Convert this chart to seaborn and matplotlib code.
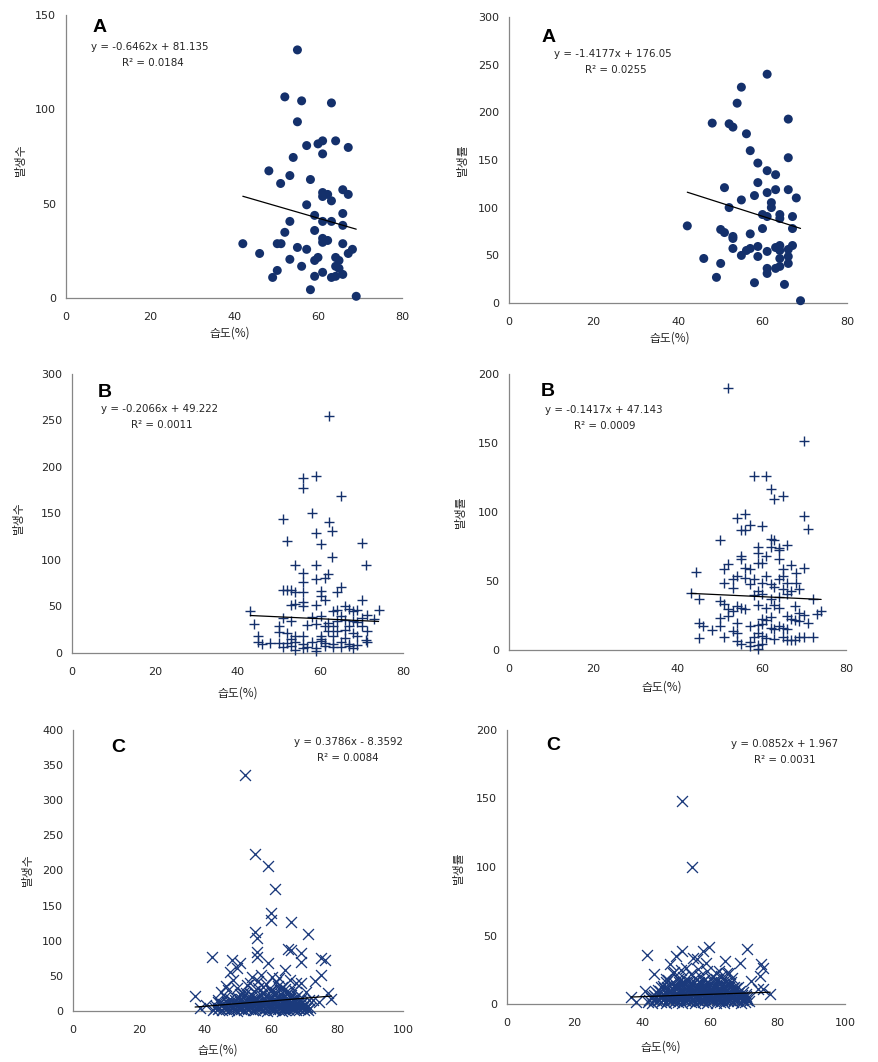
import matplotlib
matplotlib.use("Agg")
import matplotlib.pyplot as plt
import seaborn as sns
import numpy as np
import pandas as pd

sns.set_style("white")
plt.rcParams['font.family'] = ['DejaVu Sans', 'Noto Sans CJK KR']

# ---------------- DATA ----------------
# Panel A (left): humidity vs count
xa1 = [55.1, 52.1, 56.1, 63.2, 55.1, 57.3, 60.0, 61.1, 64.2, 67.2, 61.1, 54.1, 48.3, 53.3, 51.1,
       58.2, 61.1, 61.1, 62.3, 63.2, 65.9, 67.2, 57.3, 59.2, 53.3, 61.1, 63.2, 65.9, 65.9, 52.1,
       59.2, 61.1, 61.1, 62.3, 42.1, 50.3, 51.2, 55.1, 57.3, 65.9, 67.2, 68.2, 46.1, 53.3, 59.2,
       60.0, 64.2, 65.0, 64.2, 65.0, 56.1, 50.3, 49.2, 59.2, 61.1, 63.2, 64.2, 65.9, 58.2, 69.1]
ya1 = [131.5, 106.6, 104.5, 103.4, 93.4, 80.8, 81.7, 83.3, 83.3, 79.8, 76.4, 74.5, 67.4, 64.9, 60.7,
       62.8, 55.9, 53.8, 54.9, 51.5, 57.4, 54.9, 49.4, 43.8, 40.6, 40.6, 40.6, 44.8, 38.5, 34.8,
       35.8, 31.6, 29.5, 30.5, 28.8, 28.8, 28.8, 26.8, 25.8, 28.8, 23.6, 25.8, 23.6, 20.5, 19.9,
       21.5, 21.5, 19.9, 16.8, 15.7, 16.8, 14.6, 10.9, 11.5, 13.6, 10.9, 11.5, 12.5, 4.4, 0.9]

# Panel A (right): humidity vs rate
xa2 = [61.1, 55.0, 54.0, 48.1, 52.1, 53.0, 66.1, 56.2, 57.1, 66.1, 58.9, 61.1, 63.1, 58.9, 51.0,
       61.1, 63.1, 66.1, 58.1, 68.0, 55.0, 62.1, 62.1, 52.1, 60.0, 61.1, 64.1, 64.1, 67.1, 42.2,
       60.0, 67.1, 50.1, 51.0, 53.0, 53.0, 57.1, 53.0, 56.2, 57.1, 58.9, 63.1, 64.1, 64.1, 61.1,
       66.1, 67.1, 55.0, 58.9, 66.1, 64.1, 46.1, 50.1, 64.1, 66.1, 61.1, 63.1, 61.1, 49.1, 58.1,
       65.2, 69.0]
ya2 = [240.0, 226.4, 209.6, 188.7, 188.0, 184.5, 192.9, 177.5, 159.8, 152.4, 146.8, 138.8, 134.6, 126.3, 121.0,
       115.8, 118.9, 118.9, 112.7, 110.2, 108.1, 105.3, 100.1, 100.1, 92.8, 90.7, 92.8, 88.6, 90.7, 80.9,
       78.1, 78.1, 77.1, 73.9, 69.8, 67.7, 72.5, 57.2, 55.1, 57.2, 59.3, 58.2, 60.3, 55.1, 54.1,
       56.2, 60.3, 49.9, 48.8, 48.8, 46.7, 46.7, 41.5, 38.4, 41.5, 36.3, 36.3, 31.0, 26.9, 21.3,
       19.5, 2.4]

# Panel B (left)
xb1 = [62.1, 58.9, 55.9, 55.9, 64.9, 57.9, 51.0, 62.1, 62.9, 58.9, 52.0, 70.1, 60.1, 62.9, 54.0,
       58.9, 71.1, 61.9, 61.1, 58.9, 55.9, 55.9, 64.9, 51.0, 52.0, 53.0, 54.0, 55.9, 60.1, 60.1,
       64.0, 61.1, 70.1, 55.9, 54.0, 53.0, 58.9, 55.9, 66.0, 68.9, 43.1, 74.1, 63.1, 64.0, 66.9,
       67.9, 71.4, 70.1, 73.1, 51.0, 57.9, 60.1, 64.9, 43.9, 53.0, 50.0, 56.9, 58.9, 61.1, 63.1,
       66.9, 68.9, 70.1, 50.0, 52.0, 54.0, 55.9, 61.9, 64.0, 66.0, 67.9, 71.4, 68.9, 45.0, 60.1,
       63.1, 66.0, 71.1, 53.0, 45.0, 45.9, 47.9, 50.0, 52.0, 54.0, 55.9, 57.9, 60.1, 61.1, 63.1,
       64.9, 66.9, 68.9, 71.4, 51.0, 53.0, 55.9, 56.9, 58.9, 61.1, 63.1, 64.9, 66.9, 67.9, 58.9,
       54.0, 60.1, 64.0, 66.0, 67.9, 61.9]
yb1 = [255.2, 190.8, 187.9, 177.6, 168.6, 150.4, 143.9, 140.7, 131.0, 128.9, 120.6, 118.1, 117.1, 103.1, 94.2,
       94.2, 94.9, 84.8, 80.2, 79.1, 85.9, 76.3, 70.9, 68.0, 68.0, 68.0, 65.2, 65.2, 66.6, 60.9,
       65.2, 57.3, 57.3, 54.8, 53.0, 51.2, 51.9, 50.8, 50.8, 46.5, 44.8, 46.5, 44.8, 45.8, 47.3,
       44.8, 41.2, 37.6, 36.5, 37.6, 38.3, 39.4, 39.4, 31.5, 34.0, 29.4, 30.1, 31.5, 29.4, 29.4,
       29.4, 32.9, 28.6, 22.2, 21.5, 18.6, 17.9, 23.3, 23.3, 25.1, 21.5, 23.3, 17.9, 18.6, 17.9,
       18.6, 16.1, 14.3, 15.0, 11.5, 10.0, 10.7, 10.7, 10.7, 11.5, 10.0, 11.5, 12.5, 10.7, 10.0,
       11.5, 10.0, 9.0, 11.5, 6.4, 7.2, 5.4, 6.4, 5.4, 7.2, 6.4, 6.4, 7.2, 5.4, 1.8,
       3.6, 15.0, 34.0, 35.1, 34.0, 32.2]

# Panel B (right)
xb2 = [52.0, 70.0, 58.1, 61.0, 62.1, 63.0, 65.0, 56.0, 54.1, 70.0, 57.1, 60.1, 55.1, 56.0, 70.9,
       50.1, 62.1, 63.0, 65.9, 59.1, 62.1, 64.2, 64.0, 61.0, 55.1, 59.1, 55.1, 64.0, 59.1, 60.1,
       52.0, 56.0, 57.1, 65.0, 67.0, 70.0, 44.3, 51.1, 68.1, 54.1, 61.0, 65.0, 56.0, 53.1, 58.1,
       64.0, 51.1, 57.1, 60.1, 62.1, 65.9, 68.1, 53.1, 63.0, 65.0, 68.9, 59.1, 67.0, 43.2, 60.1,
       64.0, 65.9, 45.2, 58.1, 62.1, 72.1, 50.1, 51.1, 54.1, 55.1, 59.1, 61.0, 63.0, 64.0, 68.0,
       52.0, 56.0, 53.1, 74.1, 68.9, 73.1, 70.0, 65.9, 62.1, 50.1, 52.0, 60.1, 67.0, 61.0, 68.0,
       70.9, 45.2, 54.1, 68.9, 50.1, 46.0, 57.1, 59.1, 60.1, 64.0, 65.0, 65.9, 48.2, 53.1, 62.1,
       63.0, 54.1, 45.2, 51.1, 58.1, 60.1, 65.0, 68.9, 70.0, 72.1, 59.1, 61.0, 63.0, 65.9, 67.0,
       68.0, 54.1, 57.1, 55.1, 59.1, 60.1, 57.1, 59.1]
yb2 = [189.9, 151.3, 126.4, 126.4, 116.8, 109.1, 111.5, 98.2, 95.8, 97.0, 90.5, 90.2, 86.6, 87.3, 87.8,
       79.4, 80.6, 79.4, 76.0, 74.8, 74.8, 74.1, 72.2, 68.0, 68.0, 70.5, 66.1, 66.1, 63.2, 63.2,
       62.0, 59.6, 58.4, 58.4, 61.3, 59.6, 56.7, 58.9, 55.5, 53.6, 53.6, 53.6, 52.4, 51.6, 51.2,
       51.6, 48.7, 47.5, 48.7, 47.5, 48.7, 48.7, 45.1, 45.8, 44.4, 44.4, 42.7, 42.7, 41.5, 40.3,
       38.6, 40.3, 36.7, 39.6, 37.2, 37.2, 35.5, 33.1, 31.9, 30.6, 32.3, 30.6, 32.3, 30.6, 31.9,
       29.4, 29.4, 28.2, 28.2, 26.5, 25.8, 25.3, 24.6, 23.9, 23.4, 24.6, 22.7, 22.7, 21.7, 21.7,
       19.3, 19.3, 19.3, 21.0, 17.4, 17.4, 17.4, 18.1, 18.6, 17.4, 16.2, 15.4, 14.5, 13.8, 16.2,
       15.4, 12.5, 8.9, 9.7, 9.7, 10.1, 9.7, 9.7, 9.7, 9.7, 12.1, 8.9, 7.7, 7.2, 7.2,
       7.2, 6.5, 5.8, 4.1, 3.4, 4.1, 2.9, 1.0]

# Panel C (left)
xc1 = [52.1, 55.3, 59.1, 61.2, 60.0, 60.0, 66.2, 55.3, 55.9, 71.1, 42.1, 55.9, 55.9, 65.2, 66.2,
       69.2, 69.2, 75.3, 76.3, 75.3, 48.3, 50.6, 49.6, 47.6, 59.1, 64.2, 60.4, 54.1, 56.1, 67.7,
       69.2, 73.3, 37.0, 38.4, 78.3, 77.2, 72.7, 74.6, 45.0, 52.6, 48.5, 63.2, 61.6, 57.6, 51.6,
       65.7, 70.7, 40.2, 43.9, 46.5, 57.0, 62.4, 68.0,
       47.0, 49.8, 53.5, 58.5, 62.0, 64.5, 67.0, 50.5, 56.0, 60.0, 63.0, 66.0, 54.0, 58.0, 69.5,
       71.5, 46.0, 44.0,
       42.5, 43.8, 45.1, 46.4, 47.2, 48.9, 49.6, 50.8, 51.9, 53.1, 54.4, 55.2, 56.7, 57.5, 58.8,
       59.6, 60.9, 62.1, 63.4, 64.2, 65.5, 66.8, 67.6, 68.9, 70.1, 71.3,
       43.2, 44.9, 46.0, 47.7, 48.4, 50.1, 51.3, 52.6, 53.8, 55.0, 56.1, 57.9, 59.0, 60.3, 61.6,
       62.7, 64.0, 65.1, 66.3, 67.4, 68.6, 69.8, 71.0,
       44.5, 46.8, 48.0, 49.3, 50.5, 52.0, 53.4, 54.6, 55.8, 57.2, 58.3, 59.7, 60.6, 61.9, 63.1,
       64.5, 65.7, 66.9, 68.1, 69.4,
       47.5, 50.0, 51.6, 53.0, 54.2, 55.5, 56.9, 58.0, 59.3, 60.8, 62.3, 63.6, 64.8, 66.1, 67.3,
       52.3, 54.9, 57.4, 59.9, 61.3, 62.8, 64.3, 65.6,
       45.7, 48.2, 50.9, 53.6, 56.3, 58.4, 61.0, 63.8, 66.5, 69.0, 70.6,
       43.0, 44.2, 45.7, 47.0, 48.5, 49.9, 51.2, 52.4, 53.7, 55.6, 56.4, 58.1, 59.3, 60.5, 61.3,
       62.6, 63.8, 64.9, 66.1, 67.2, 68.3, 69.5, 70.6, 71.8,
       45.6, 47.1, 48.8, 50.2, 51.8, 53.2, 54.5, 55.9, 57.0, 58.6, 59.8, 61.1, 62.4, 63.7, 64.9,
       66.0, 67.8, 69.0, 70.2,
       49.0, 51.0, 52.8, 54.0, 55.7, 57.8, 59.5, 61.0, 62.0, 63.9, 65.3, 66.7, 68.4]
yc1 = [335.5, 223.5, 205.9, 173.7, 139.0, 129.5, 126.7, 112.9, 103.4, 109.1, 76.4, 84.5, 76.4, 88.7, 86.8,
       83.0, 70.2, 75.0, 72.6, 51.2, 72.6, 67.9, 60.7, 56.0, 67.9, 58.4, 48.9, 48.9, 43.2, 39.4,
       40.3, 43.2, 21.4, 3.8, 16.6, 25.1, 15.7, 13.3, 27.5, 37.0, 44.1, 34.6, 41.8, 34.6, 25.1,
       44.1, 27.5, 8.0, 12.5, 35.0, 51.0, 47.0, 22.0,
       30.5, 33.0, 40.0, 38.5, 36.0, 27.0, 30.0, 24.0, 32.5, 29.0, 24.0, 23.0, 23.5, 26.0, 18.5,
       16.0, 19.5, 15.5,
       1.2, 2.5, 0.8, 3.1, 1.9, 2.2, 0.5, 3.4, 1.1, 2.8, 0.9, 1.6, 3.0, 2.1, 0.7,
       2.6, 1.4, 3.3, 0.6, 2.0, 1.8, 2.9, 1.0, 2.4, 1.3, 0.9,
       6.5, 8.2, 7.1, 9.0, 6.8, 7.7, 8.8, 6.2, 9.4, 7.3, 8.5, 6.9, 9.2, 7.6, 8.1,
       6.4, 9.6, 7.0, 8.3, 6.6, 7.9, 5.8, 6.3,
       11.2, 12.8, 13.6, 11.9, 14.3, 12.4, 13.9, 15.2, 12.1, 14.8, 13.3, 15.6, 12.7, 14.1, 16.0,
       13.5, 12.2, 14.6, 11.5, 12.9,
       17.4, 18.9, 20.3, 17.9, 21.5, 19.2, 22.6, 18.4, 20.8, 23.1, 21.9, 19.6, 24.0, 20.5, 18.1,
       26.1, 28.4, 25.7, 30.2, 27.5, 29.8, 31.4, 26.9,
       4.2, 4.8, 5.1, 4.5, 5.3, 4.0, 4.7, 5.2, 4.4, 4.9, 3.8,
       4.1, 3.8, 4.6, 5.0, 3.6, 4.3, 4.9, 3.7, 5.2, 4.0, 4.4, 3.9, 5.1, 4.2, 3.5,
       4.8, 4.5, 3.8, 5.3, 4.1, 3.6, 4.7, 4.0, 3.9,
       10.1, 9.6, 10.8, 9.9, 11.0, 10.4, 9.7, 10.9, 10.2, 9.8, 11.2, 10.5, 9.9, 10.7, 11.1,
       10.0, 10.6, 9.5, 10.3,
       15.8, 16.4, 17.0, 16.1, 17.2, 16.6, 17.5, 16.9, 17.8, 16.3, 17.1, 16.0, 15.5]

# Panel C (right)
xc2 = [51.7, 54.7, 41.5, 51.7, 50.0, 59.7, 57.9, 71.0, 55.0, 56.2, 58.9, 64.6, 68.8, 75.2, 75.7,
       43.6, 48.1, 49.1, 74.8, 72.2, 77.9, 36.7, 38.2, 40.7, 53.0, 61.9, 65.8, 74.2, 75.7, 47.1,
       41.8, 43.0, 44.3, 45.6, 46.9, 48.1, 49.4, 50.7, 51.8, 53.0, 54.3, 55.6, 56.8, 58.1, 59.3,
       60.6, 61.9, 63.0, 64.2, 65.5, 66.8, 68.0, 69.3, 70.5, 71.6,
       42.5, 43.9, 45.2, 46.3, 47.8, 49.0, 50.2, 51.4, 52.7, 53.9, 55.1, 56.3, 57.6, 58.7, 60.0,
       61.2, 62.5, 63.7, 64.9, 66.1, 67.4, 68.6, 69.9, 71.1,
       43.5, 44.8, 46.0, 47.3, 48.6, 49.8, 51.0, 52.2, 53.5, 54.7, 55.9, 57.1, 58.4, 59.6, 60.8,
       62.0, 63.3, 64.5, 65.8, 67.0, 68.2, 69.5, 70.8,
       44.6, 46.5, 47.9, 49.2, 50.4, 51.7, 52.9, 54.0, 55.3, 56.6, 57.8, 59.0, 60.3, 61.5, 62.8,
       64.0, 65.2, 66.5, 67.7, 69.0,
       46.2, 48.4, 50.0, 51.2, 52.5, 53.8, 55.0, 56.2, 57.4, 58.6, 59.9, 61.1, 62.3, 63.6, 64.8,
       66.0, 67.3,
       47.6, 50.6, 52.1, 53.4, 55.6, 57.0, 58.3, 60.4, 61.7, 63.2, 64.4, 66.6,
       49.5, 51.5, 54.4, 56.5, 59.2, 62.6, 65.2,
       42.1, 43.4, 44.9, 46.1, 47.5, 48.7, 50.0, 51.1, 52.4, 53.6, 54.9, 56.1, 57.3, 58.6, 59.9,
       61.0, 62.2, 63.5, 64.6, 65.9, 67.1, 68.4, 69.6, 70.9,
       42.9, 44.2, 45.5, 46.8, 48.0, 49.3, 50.6, 51.9, 53.1, 54.4, 55.7, 56.9, 58.2, 59.4, 60.7,
       62.0, 63.2, 64.4, 65.7, 66.9, 68.1, 69.4, 70.6,
       44.0, 45.4, 46.7, 48.2, 49.5, 50.9, 52.1, 53.3, 54.6, 55.8, 57.2, 58.5, 59.7, 61.0, 62.3,
       63.5, 64.7, 66.0, 67.3, 68.5, 69.8,
       45.5, 47.2, 48.9, 50.3, 51.5, 52.7, 54.1, 55.4, 56.7, 57.9, 59.2, 60.5, 61.8, 63.0, 64.3,
       65.6, 66.9, 68.2,
       47.0, 49.1, 50.8, 52.3, 53.9, 55.2, 56.8, 58.0, 59.5, 60.9, 62.1, 63.4, 64.9, 66.2]
yc2 = [148.3, 100.0, 35.9, 38.6, 35.4, 41.5, 38.6, 40.3, 33.7, 32.5, 30.1, 31.3, 30.1, 28.9, 26.5,
       21.6, 28.9, 22.8, 20.4, 16.7, 7.0, 5.3, 1.5, 9.5, 26.5, 22.8, 22.8, 10.7, 10.7, 18.0,
       1.2, 0.6, 2.1, 1.5, 0.9, 2.4, 1.1, 1.8, 0.5, 2.2, 1.4, 0.8, 2.0, 1.3, 0.7,
       2.5, 1.0, 1.7, 0.4, 2.3, 1.2, 1.9, 0.6, 1.5, 2.0,
       4.1, 3.6, 4.8, 3.2, 4.5, 3.9, 5.0, 3.4, 4.3, 4.9, 3.7, 4.6, 3.1, 4.2, 5.1,
       3.8, 4.4, 3.3, 4.7, 4.0, 3.5, 4.9, 3.9, 4.2,
       6.8, 7.5, 6.2, 8.1, 7.0, 6.5, 8.4, 7.3, 6.1, 7.9, 6.6, 8.2, 7.1, 6.4, 8.0,
       7.6, 6.9, 8.5, 7.2, 6.3, 7.8, 6.7, 7.4,
       10.2, 11.5, 9.6, 10.9, 11.8, 9.9, 10.6, 11.3, 9.4, 10.8, 11.9, 10.1, 9.7, 11.1, 10.4,
       11.6, 9.8, 10.7, 11.4, 9.5,
       13.4, 14.8, 12.9, 14.1, 15.2, 13.6, 14.5, 12.8, 15.5, 13.9, 14.7, 13.1, 15.0, 14.2, 13.5,
       14.9, 12.7,
       17.5, 18.2, 19.6, 17.1, 18.8, 20.1, 17.8, 19.3, 18.5, 20.4, 17.3, 18.9,
       23.4, 24.9, 22.1, 25.6, 23.8, 24.2, 22.7,
       2.9, 3.0, 2.7, 3.1, 2.6, 2.9, 3.2, 2.8, 2.7, 3.0, 3.1, 2.6, 2.9, 3.3, 2.8,
       2.9, 3.0, 2.7, 3.2, 2.8, 2.9, 3.1, 2.7, 3.0,
       5.6, 5.3, 5.8, 5.4, 5.9, 5.5, 5.7, 5.2, 5.8, 5.6, 5.3, 5.9, 5.5, 5.7, 5.4,
       5.8, 5.6, 5.3, 5.9, 5.5, 5.7, 5.4, 5.6,
       8.9, 9.2, 8.7, 9.0, 9.3, 8.8, 9.1, 8.6, 9.0, 9.2, 8.9, 8.7, 9.1, 9.3, 8.8,
       9.0, 9.2, 8.7, 8.9, 9.1, 8.8,
       12.1, 12.4, 11.8, 12.6, 12.0, 12.3, 11.9, 12.5, 12.2, 11.7, 12.4, 12.0, 12.6, 11.9, 12.3,
       12.1, 11.8, 12.2,
       16.1, 15.8, 16.4, 16.0, 16.6, 15.9, 16.3, 16.7, 15.7, 16.2, 16.5, 15.9, 16.1, 16.4]

# Regression equations (from the chart annotations)
slopes = [-0.6462, -1.4177, -0.2066, -0.1417, 0.3786, 0.0852]
intercepts = [81.135, 176.05, 49.222, 47.143, -8.3592, 1.967]
eq_texts = ["y = -0.6462x + 81.135", "y = -1.4177x + 176.05", "y = -0.2066x + 49.222",
            "y = -0.1417x + 47.143", "y = 0.3786x - 8.3592", "y = 0.0852x + 1.967"]
r2_texts = ["R² = 0.0184", "R² = 0.0255", "R² = 0.0011", "R² = 0.0009", "R² = 0.0084", "R² = 0.0031"]
panel_letters = ["A", "A", "B", "B", "C", "C"]
ylabels = ["발생수", "발생률", "발생수", "발생률", "발생수", "발생률"]
xlabel = "습도(%)"
ymaxes = [150, 300, 300, 200, 400, 200]
ysteps = [50, 50, 50, 50, 50, 50]
xmaxes = [80, 80, 80, 80, 100, 100]

# ---------------- LAYOUT (pixels) ----------------
W, H = 879, 1062
fig = plt.figure(figsize=(W / 100, H / 100), dpi=100)
fig.patch.set_facecolor("white")

boxes = [(66, 402, 15, 298), (509, 847, 17, 303),
         (72, 403, 374, 653), (509, 846, 374, 650),
         (73, 403, 730, 1011), (507, 845, 730, 1004)]
letter_pos = [(100, 28), (549, 37), (105, 392), (548, 391), (118, 748), (553, 745)]
eq_pos = [(150, 47), (613, 54), (160, 409), (604, 410), (348, 742), (785, 744)]
r2_pos = [(153, 63), (616, 70), (162, 425), (605, 426), (348, 758), (785, 760)]
ylab_pos = [(20, 160), (462, 160), (18, 518), (460, 512), (27, 870), (458, 868)]
xlab_pos = [(230, 333), (670, 338), (238, 693), (662, 687), (218, 1050), (661, 1047)]

datasets = [(xa1, ya1), (xa2, ya2), (xb1, yb1), (xb2, yb2), (xc1, yc1), (xc2, yc2)]
markers = ['o', 'o', '+', '+', 'x', 'x']
navy = '#14306b'
navy_c = '#1b3a7c'
spine_col = '#868686'
txt_col = '#262626'


def fx(px):
    return px / W


def fy(py):
    return 1 - py / H


for i, ((xs, ys), (l, r, t, b)) in enumerate(zip(datasets, boxes)):
    ax = fig.add_axes([fx(l), fy(b), (r - l) / W, (b - t) / H])
    df = pd.DataFrame({"x": xs, "y": ys})
    m = markers[i]
    if m == 'o':
        sns.scatterplot(data=df, x="x", y="y", marker='o', s=42, color=navy,
                        edgecolor='none', ax=ax, zorder=3)
    elif m == '+':
        sns.scatterplot(data=df, x="x", y="y", marker='+', s=55, color=navy,
                        linewidth=1.0, ax=ax, zorder=3)
    else:
        sns.scatterplot(data=df, x="x", y="y", marker='x', s=62, color=navy_c,
                        linewidth=0.95, ax=ax, zorder=3)
    xl = np.array([min(xs), max(xs)])
    yl = slopes[i] * xl + intercepts[i]
    ax.plot(xl, yl, color='black', linewidth=0.9, zorder=4)

    ax.set_xlim(0, xmaxes[i])
    ax.set_ylim(0, ymaxes[i])
    ax.set_xticks(np.arange(0, xmaxes[i] + 1, 20))
    ax.set_yticks(np.arange(0, ymaxes[i] + 1, ysteps[i]))
    ax.set_xlabel("")
    ax.set_ylabel("")
    for s in ['top', 'right']:
        ax.spines[s].set_visible(False)
    for s in ['left', 'bottom']:
        ax.spines[s].set_color(spine_col)
        ax.spines[s].set_linewidth(0.9)
    ax.tick_params(axis='both', direction='out', length=4, width=0.8, color=spine_col,
                   labelsize=8, labelcolor=txt_col, pad=3)
    ax.tick_params(axis='x', pad=6)
    ax.patch.set_alpha(0)
    for coll in ax.collections:
        coll.set_clip_on(False)

    fig.text(fx(letter_pos[i][0]), fy(letter_pos[i][1]), panel_letters[i], ha='center', va='center',
             fontsize=14, fontweight='bold', color='black', family=['Liberation Sans', 'DejaVu Sans'])
    fig.text(fx(eq_pos[i][0]), fy(eq_pos[i][1]), eq_texts[i], ha='center', va='center',
             fontsize=7.4, color=txt_col)
    fig.text(fx(r2_pos[i][0]), fy(r2_pos[i][1]), r2_texts[i], ha='center', va='center',
             fontsize=7.4, color=txt_col)
    fig.text(fx(ylab_pos[i][0]), fy(ylab_pos[i][1]), ylabels[i], ha='center', va='center',
             rotation=90, fontsize=8.5, color=txt_col, family=['Noto Sans CJK KR', 'DejaVu Sans'])
    fig.text(fx(xlab_pos[i][0]), fy(xlab_pos[i][1]), xlabel, ha='center', va='center',
             fontsize=8.5, color=txt_col, family=['Noto Sans CJK KR', 'DejaVu Sans'])

fig.savefig("out.png", dpi=100, facecolor='white')
